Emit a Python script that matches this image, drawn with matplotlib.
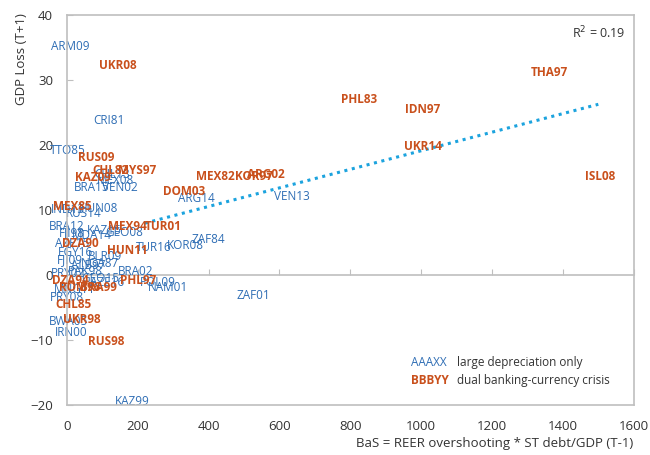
import matplotlib.pyplot as plt

plt.rcParams['font.family'] = ['Open Sans', 'DejaVu Sans']

# -------------------
# data: large depreciation only (blue)
# -------------------
dep_names = ["ARM09", "CRI81", "TTO85", "CHL13", "MEX08", "BRA15", "VEN02", "ARG14",
             "VEN13", "IND13", "HUN08", "RUS14", "BRA12", "FJI98", "KAZ15", "GEO08",
             "MDA14", "AZE15", "EGY16", "FJI09", "NGA87", "BLR09", "ALB97", "ZAF84",
             "TUR16", "KOR08", "BRA02", "PRY02", "PAK98", "GEO15", "AZE16", "MNG11",
             "POL09", "NAM01", "ZAF01", "PRY08", "BWA05", "IRN00", "KAZ99"]
dep_x = [8, 119, 3, 128, 136, 71, 148, 366,
         634, 3, 88, 48, 0, 14, 105, 162,
         71, 14, 23, 9, 94, 108, 60, 398,
         244, 335, 193, 3, 51, 94, 114, 23,
         256, 284, 525, 0, 3, 11, 185]
dep_y = [35.2, 23.8, 19.2, 15.5, 14.5, 13.5, 13.5, 11.8,
         12.0, 10.0, 10.2, 9.5, 7.4, 6.5, 6.8, 6.5,
         6.0, 4.9, 3.5, 2.3, 1.8, 2.9, 1.4, 5.4,
         4.3, 4.5, 0.5, 0.3, 0.6, -0.5, -1.2, -2.3,
         -1.2, -1.9, -3.2, -3.5, -7.2, -8.9, -19.5]

# -------------------
# data: dual banking-currency crisis (orange)
# -------------------
dual_names = ["UKR08", "THA97", "PHL83", "IDN97", "UKR14", "ISL08", "RUS09", "CHL82",
              "MYS97", "KAZ09", "MEX82", "KOR97", "ARG02", "DOM03", "MEX85", "MEX94",
              "TUR01", "DZA90", "HUN11", "DZA94", "PHL97", "ROM96", "BRA99", "CHL85",
              "UKR98", "RUS98"]
dual_x = [143, 1361, 824, 1003, 1006, 1506, 82, 122,
          199, 74, 418, 528, 562, 332, 14, 171,
          273, 37, 170, 11, 202, 37, 88, 18,
          43, 111]
dual_y = [32.2, 31.2, 27.0, 25.5, 19.7, 15.2, 18.0, 16.0,
          16.0, 15.0, 15.2, 15.1, 15.4, 12.8, 10.6, 7.5,
          7.5, 4.9, 3.8, -0.9, -0.8, -2.0, -2.0, -4.6,
          -6.9, -10.2]

# trend line (as drawn on the original)
trend_x = [220, 1500]
trend_y = [7.97, 26.26]
r2 = 0.19

BLUE = "#2E6DB4"
ORANGE = "#C9501C"
GREY = "#BFBFBF"

fig = plt.figure(figsize=(6.5, 4.55), dpi=100)
ax = fig.add_axes([0.103, 0.110, 0.872, 0.857])

ax.plot(trend_x, trend_y, linestyle=(0, (1, 1.5)), color="#1CA3DE", linewidth=2.2, zorder=1)

for n, x, y in zip(dep_names, dep_x, dep_y):
    ax.text(x, y, n, color=BLUE, fontsize=8.5, ha="center", va="center", zorder=2)
for n, x, y in zip(dual_names, dual_x, dual_y):
    ax.text(x, y, n, color=ORANGE, fontsize=8.5, fontweight="bold", ha="center", va="center", zorder=3)

ax.set_xlim(0, 1600)
ax.set_ylim(-20, 40)
ax.set_xticks(range(0, 1601, 200))
ax.set_yticks(range(-20, 41, 10))

for s in ax.spines.values():
    s.set_color(GREY)
    s.set_linewidth(1.2)

ax.tick_params(axis="x", length=0, pad=11, labelsize=9.5, labelcolor="#333333")
ax.tick_params(axis="y", direction="in", length=4, color=GREY, pad=10, labelsize=9.5, labelcolor="#333333")

# horizontal axis line at y = 0
sec = ax.secondary_xaxis(1 / 3)
sec.set_xticks(range(0, 1601, 200))
sec.tick_params(axis="x", direction="in", length=4, color=GREY, labelbottom=False, labeltop=False)
sec.set_xticklabels([])
for s in sec.spines.values():
    s.set_color(GREY)
    s.set_linewidth(1.2)

ax.set_xlabel("BaS = REER overshooting * ST debt/GDP (T-1)", fontsize=9.5, color="#333333",
              ha="right", va="center")
ax.xaxis.set_label_coords(1.0, -0.098)
ax.set_ylabel("GDP Loss (T+1)", fontsize=9.5, color="#333333", ha="right", va="center")
ax.yaxis.set_label_coords(-0.081, 1.005)

ax.text(0.985, 0.955, "R$^2$ = %.2f" % r2, transform=ax.transAxes, ha="right", va="center",
        fontsize=9, color="#333333")

ax.text(0.607, 0.108, "AAAXX", transform=ax.transAxes, color=BLUE, fontsize=8.5, va="center")
ax.text(0.688, 0.108, "large depreciation only", transform=ax.transAxes, color="#333333", fontsize=8.5, va="center")
ax.text(0.607, 0.062, "BBBYY", transform=ax.transAxes, color=ORANGE, fontsize=8.5, fontweight="bold", va="center")
ax.text(0.688, 0.062, "dual banking-currency crisis", transform=ax.transAxes, color="#333333", fontsize=8.5, va="center")

fig.savefig("out.png", dpi=100)
